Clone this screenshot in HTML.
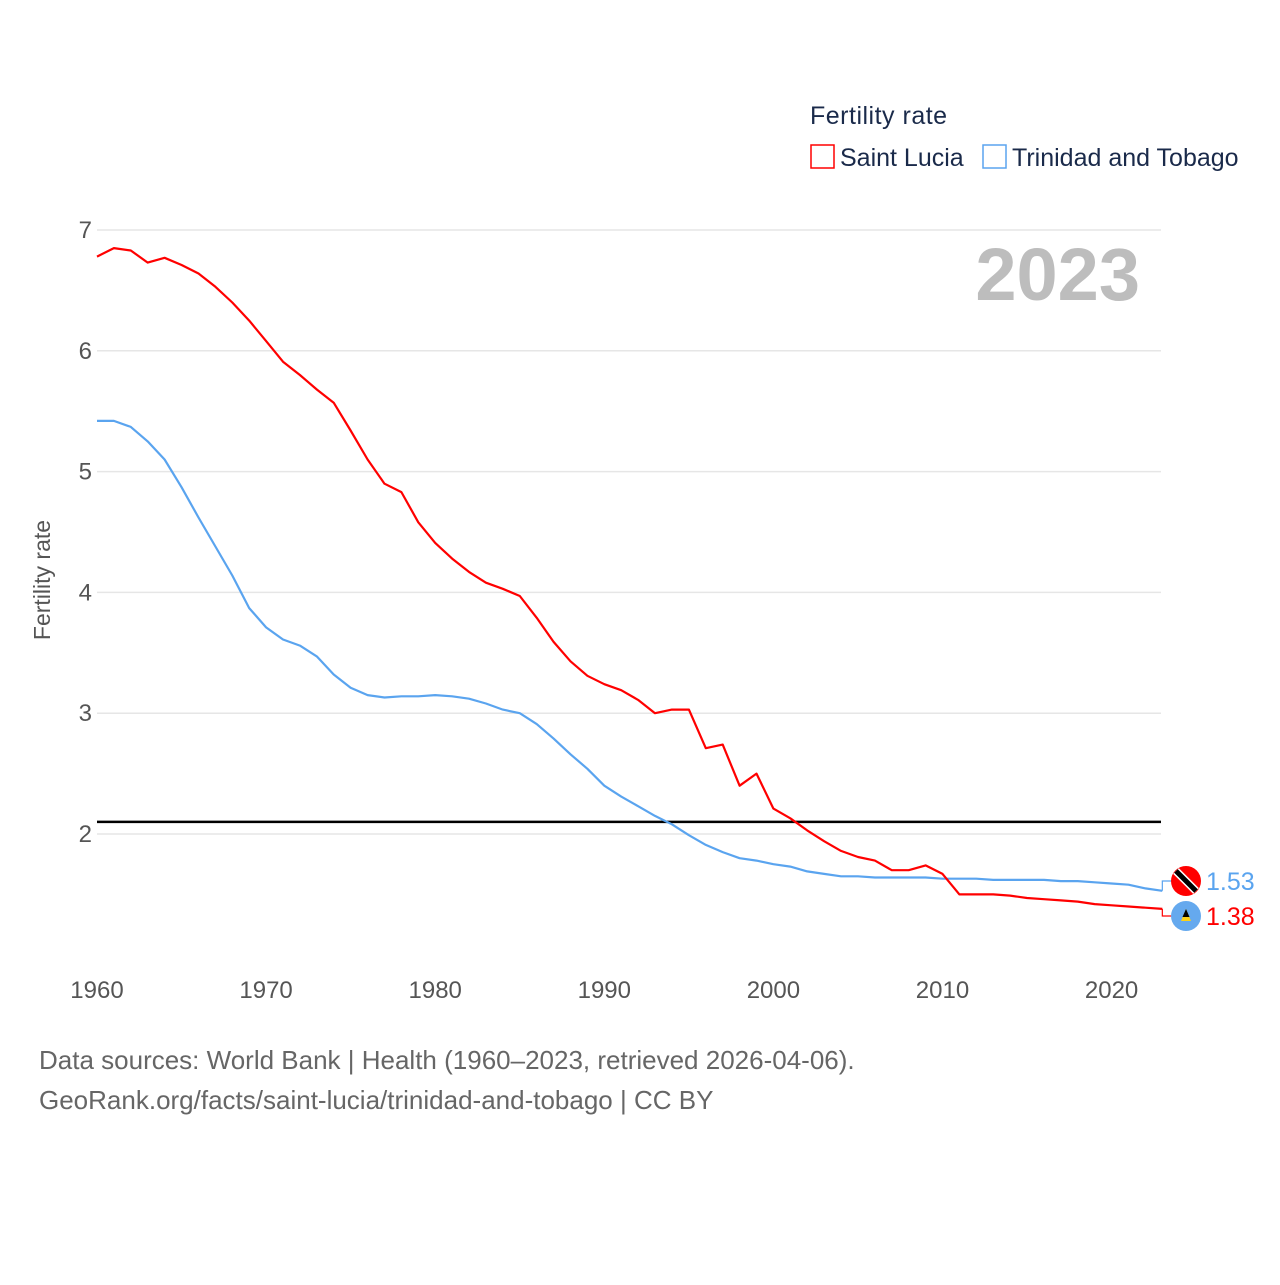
<!DOCTYPE html>
<html><head><meta charset="utf-8"><style>
body{margin:0;background:#fff;width:1280px;height:1280px;overflow:hidden;font-family:"Liberation Sans",sans-serif}
</style></head><body>
<svg id="chart" width="1280" height="1280" xmlns="http://www.w3.org/2000/svg" font-family="Liberation Sans, sans-serif">
<g id="grid"></g>
<g id="lines"></g>
<text x="1140" y="300" text-anchor="end" font-size="74" font-weight="bold" fill="#bdbdbd">2023</text>
<text x="810" y="124" font-size="25" fill="#1a2a4a" letter-spacing="0.5">Fertility rate</text>
<g><rect x="811" y="145" width="23" height="23" fill="none" stroke="#f00" stroke-width="1.5"/><text x="840" y="166" font-size="25" fill="#1a2a4a">Saint Lucia</text></g>
<g><rect x="983" y="145" width="23" height="23" fill="none" stroke="#5aa4ef" stroke-width="1.5"/><text x="1012" y="166" font-size="25" fill="#1a2a4a">Trinidad and Tobago</text></g>
<text transform="translate(50,580) rotate(-90)" text-anchor="middle" font-size="23" fill="#555">Fertility rate</text>
<text x="39" y="1069" font-size="26" fill="#666">Data sources: World Bank | Health (1960–2023, retrieved 2026-04-06).</text>
<text x="39" y="1109" font-size="26" fill="#666">GeoRank.org/facts/saint-lucia/trinidad-and-tobago | CC BY</text>
</svg>
<script>
const years=[];for(let y=1960;y<=2023;y++)years.push(y);
const saintLucia=[6.78,6.85,6.83,6.73,6.77,6.71,6.64,6.53,6.40,6.25,6.08,5.91,5.80,5.68,5.57,5.34,5.10,4.90,4.83,4.58,4.41,4.28,4.17,4.08,4.03,3.97,3.79,3.59,3.43,3.31,3.24,3.19,3.11,3.00,3.03,3.03,2.71,2.74,2.40,2.50,2.21,2.13,2.03,1.94,1.86,1.81,1.78,1.70,1.70,1.74,1.67,1.50,1.50,1.50,1.49,1.47,1.46,1.45,1.44,1.42,1.41,1.40,1.39,1.38];
const trinidad=[5.42,5.42,5.37,5.25,5.10,4.87,4.62,4.38,4.14,3.87,3.71,3.61,3.56,3.47,3.32,3.21,3.15,3.13,3.14,3.14,3.15,3.14,3.12,3.08,3.03,3.00,2.91,2.79,2.66,2.54,2.40,2.31,2.23,2.15,2.08,1.99,1.91,1.85,1.80,1.78,1.75,1.73,1.69,1.67,1.65,1.65,1.64,1.64,1.64,1.64,1.63,1.63,1.63,1.62,1.62,1.62,1.62,1.61,1.61,1.60,1.59,1.58,1.55,1.53];
const yTicks=[2,3,4,5,6,7];
const xTicks=[1960,1970,1980,1990,2000,2010,2020];
const replacement=2.1;
const NS="http://www.w3.org/2000/svg";
const X=v=>97+(v-1960)*16.91;
const Y=v=>1075.6-v*120.8;
const grid=document.getElementById('grid'),lines=document.getElementById('lines');
function mk(tag,attrs,parent){const e=document.createElementNS(NS,tag);for(const k in attrs)e.setAttribute(k,attrs[k]);parent.appendChild(e);return e;}
yTicks.forEach(t=>{
 const l=mk('line',{x1:97,x2:1161,y1:Y(t),y2:Y(t),stroke:'#e6e6e6','stroke-width':1.5},grid);
 
 
 const tx=mk('text',{x:92,y:Y(t)+8,'text-anchor':'end','font-size':24,fill:'#555'},grid);tx.textContent=t;
 
 
});
xTicks.forEach(t=>{
 const tx=mk('text',{x:X(t),y:998,'text-anchor':'middle','font-size':24,fill:'#555'},grid);tx.textContent=t;
 
 
});
const ref=mk('line',{x1:97,x2:1161,y1:Y(replacement),y2:Y(replacement),stroke:'#000','stroke-width':2.5},lines);


function series(vals,color,name){
 const d=vals.map((v,i)=>(i?'L':'M')+X(years[i]).toFixed(1)+','+Y(v).toFixed(1)).join(' ');
 const p=mk('path',{d:d,fill:'none',stroke:color,'stroke-width':2.2,'stroke-linejoin':'round'},lines);
 
 
}
series(trinidad,'#5aa4ef','line-trinidad');
series(saintLucia,'#f00','line-saint-lucia');
const lt=trinidad[trinidad.length-1],ls=saintLucia[saintLucia.length-1];
const ex=X(2023);
const tY=881,sY=916;
mk('path',{d:`M${ex},${Y(lt)} L${ex},${tY} L${ex+10},${tY}`,fill:'none',stroke:'#5aa4ef','stroke-width':1.2},lines);
mk('path',{d:`M${ex},${Y(ls)} L${ex},${sY} L${ex+10},${sY}`,fill:'none',stroke:'#f00','stroke-width':1.2},lines);
const f1=mk('g',{},lines);


mk('circle',{cx:1186,cy:tY,r:15,fill:'#f00'},f1);
mk('line',{x1:1176,y1:tY-10,x2:1196,y2:tY+10,stroke:'#fff','stroke-width':8},f1);
mk('line',{x1:1176,y1:tY-10,x2:1196,y2:tY+10,stroke:'#000','stroke-width':5},f1);
const f2=mk('g',{},lines);


mk('circle',{cx:1186,cy:sY,r:15,fill:'#65a9ee'},f2);
mk('polygon',{points:`1186,${sY-7} 1181,${sY+5} 1191,${sY+5}`,fill:'#fcd116'},f2);
mk('polygon',{points:`1186,${sY-7} 1182.5,${sY+1} 1189.5,${sY+1}`,fill:'#000'},f2);
const v1=mk('text',{x:1206,y:tY+9,'font-size':25,fill:'#5aa4ef'},lines);v1.textContent=lt.toFixed(2);


const v2=mk('text',{x:1206,y:sY+9,'font-size':25,fill:'#f00'},lines);v2.textContent=ls.toFixed(2);


</script>
</body></html>
